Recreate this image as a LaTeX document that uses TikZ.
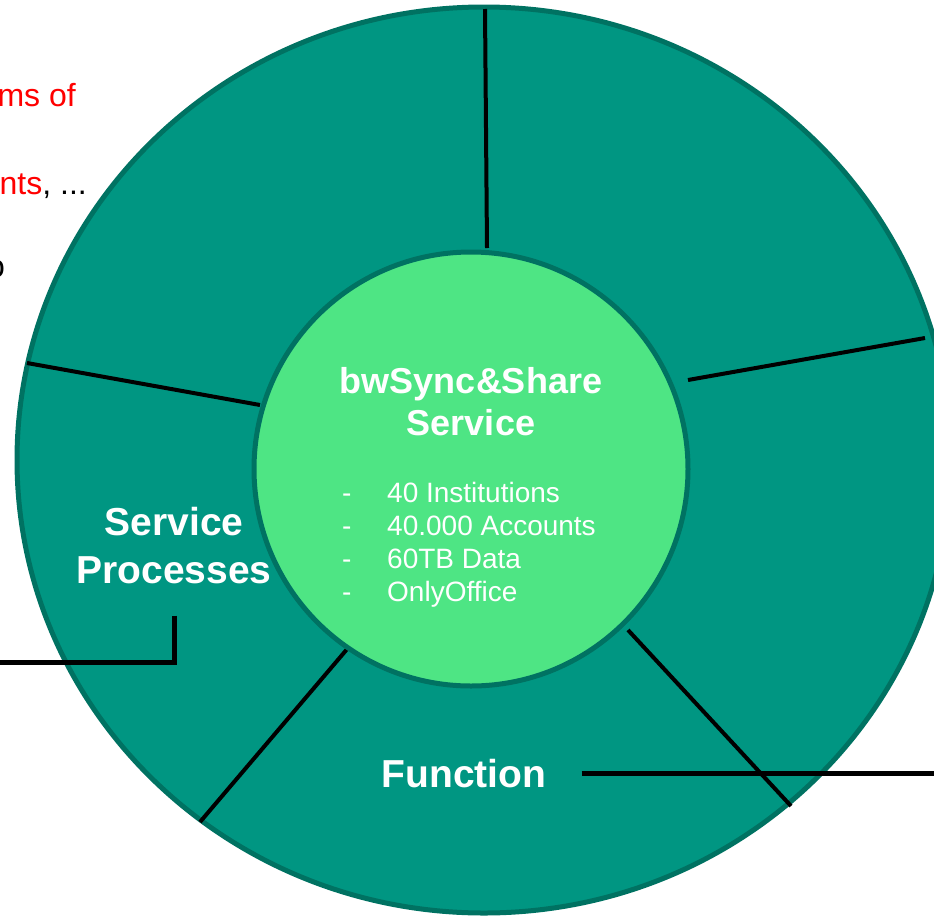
\documentclass[tikz,border=0pt]{standalone}
\usepackage{fontspec}
\setmainfont{Liberation Sans}
\usepackage{tikz}

\definecolor{outerteal}{RGB}{0,150,130}
\definecolor{rimteal}{RGB}{0,114,98}
\definecolor{coregreen}{RGB}{78,229,132}

\begin{document}
\begin{tikzpicture}[x=1pt,y=-1pt,
				ring/.style={draw=rimteal, line width=5pt, fill=outerteal},
				core/.style={circle, draw=rimteal, line width=5pt, fill=coregreen, minimum size=434pt, inner sep=0pt},
				divider/.style={black, line width=4pt},
				link/.style={black, line width=5pt},
				coretitle/.style={text=white, font=\bfseries\fontsize{36}{42}\selectfont, inner sep=0pt, anchor=base},
				coreitem/.style={text=white, font=\fontsize{28}{33}\selectfont, inner sep=0pt, anchor=base west},
				seglabel/.style={text=white, font=\bfseries\fontsize{39}{48}\selectfont, inner sep=0pt, anchor=base},
				note/.style={font=\fontsize{32}{38}\selectfont, inner sep=0pt, anchor=base east}]
	\useasboundingbox (0,0) rectangle (934,916);
	\clip (0,0) rectangle (934,916);
	% text cut off at the left
	\node[note, text=red] (N1) at (76,106) {ms of};
	\node[note] (N2) at (87,194) {\textcolor{red}{nts}, ...};
	\node[note] (N3) at (5,277) {o};
	% outer ring and dividers
	\draw[ring] (484,460) ellipse [x radius=467pt, y radius=453pt];
	\draw[divider] (487,248) -- (485,9);
	\draw[divider] (688,380) -- (925,338);
	\draw[divider] (628,630) -- (791,806);
	\draw[divider] (348,648) -- (200,822);
	\draw[divider] (260,405) -- (27,363);
	% centre
	\node[core] (C) at (471,469) {};
	\node[coretitle] (T1) at (471,393) {bwSync\&Share};
	\node[coretitle] (T2) at (471,435) {Service};
	\node[coreitem] (D1) at (342,502) {-};
	\node[coreitem] (D2) at (342,535) {-};
	\node[coreitem] (D3) at (342,568) {-};
	\node[coreitem] (D4) at (342,601) {-};
	\node[coreitem] (I1) at (387,502) {40 Institutions};
	\node[coreitem] (I2) at (387,535) {40.000 Accounts};
	\node[coreitem] (I3) at (387,568) {60TB Data};
	\node[coreitem] (I4) at (387,601) {OnlyOffice};
	% segment labels
	\node[seglabel] (SP1) at (174,535) {Service};
	\node[seglabel] (SP2) at (174,583) {Processes};
	\node[seglabel] (F) at (464,787) {Function};
	\coordinate (spEnd) at (0,662);
	\coordinate (fEnd) at (934,773);
	\draw[link] ([yshift=-32pt]SP2.south) |- (spEnd);
	\draw[link] ([xshift=35pt,yshift=14pt]F.base east) -- (fEnd);
\end{tikzpicture}
\end{document}
